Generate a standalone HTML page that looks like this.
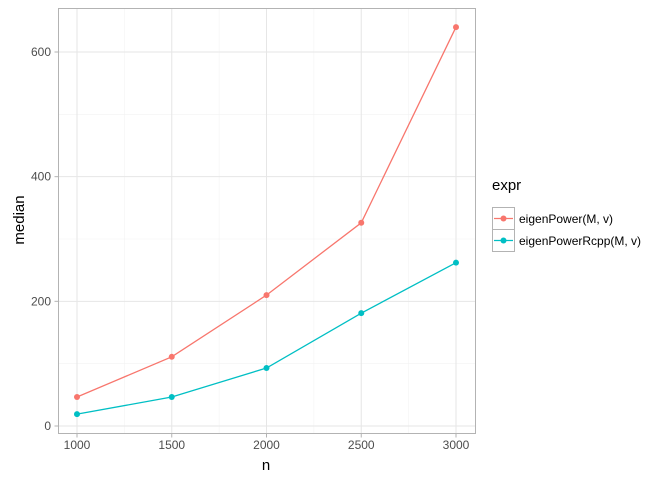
<!DOCTYPE html>
<html><head><meta charset="utf-8"><style>
body{margin:0;background:#fff;}
svg text{font-family:"Liberation Sans",sans-serif;}
</style></head><body>
<svg id="chart" width="672" height="480" xmlns="http://www.w3.org/2000/svg">
<g id="grid"></g>
<g id="series"></g>
<rect x="58.5" y="8.5" width="417" height="425" fill="none" stroke="#b3b3b3" stroke-width="1"/>
<g id="axes"></g>
<text x="266" y="470" font-size="15" fill="#000" text-anchor="middle">n</text>
<text transform="translate(24,220) rotate(-90)" font-size="15" fill="#000" text-anchor="middle">median</text>
<g>
<text x="492" y="190" font-size="15" fill="#000">expr</text>
<g>
<rect x="492.5" y="207.5" width="22" height="22" fill="#fff" stroke="#b3b3b3"/>
<line x1="494" y1="218.5" x2="513" y2="218.5" stroke="#F8766D" stroke-width="1.3"/>
<circle cx="503.5" cy="218.5" r="3" fill="#F8766D"/>
<text x="519" y="223" font-size="12" fill="#000">eigenPower(M, v)</text>
</g>
<g>
<rect x="492.5" y="229.5" width="22" height="22" fill="#fff" stroke="#b3b3b3"/>
<line x1="494" y1="240.5" x2="513" y2="240.5" stroke="#00BFC4" stroke-width="1.3"/>
<circle cx="503.5" cy="240.5" r="3" fill="#00BFC4"/>
<text x="519" y="245" font-size="12" fill="#000">eigenPowerRcpp(M, v)</text>
</g>
</g>
</svg>
<script>
const categories = [1000, 1500, 2000, 2500, 3000];
const seriesEigenPower = [46.5, 111, 210, 326, 640];
const seriesEigenPowerRcpp = [19, 46.5, 93, 181, 262];
const xTicks = [1000, 1500, 2000, 2500, 3000];
const yTicks = [0, 200, 400, 600];
const NS = "http://www.w3.org/2000/svg";
function xs(v){ return 77 + (v - 1000) * (456 - 77) / 2000; }
function ys(v){ return 426 - v * (426 - 52) / 600; }
function mk(parent, tag, attrs){ const e = document.createElementNS(NS, tag); for (const k in attrs) e.setAttribute(k, attrs[k]); parent.appendChild(e); return e; }
const grid = document.getElementById('grid'), axes = document.getElementById('axes'), ser = document.getElementById('series');
// minor grid
for (let i = 0; i < xTicks.length - 1; i++) {
  const x = xs((xTicks[i] + xTicks[i+1]) / 2);
  const l = mk(grid, 'line', {x1:x, x2:x, y1:8.5, y2:433.5, stroke:'#f2f2f2', 'stroke-width':0.6});
  
  
}
for (let i = 0; i < yTicks.length; i++) {
  const y = ys(yTicks[i] + 100);
  if (y < 9) continue;
  const l = mk(grid, 'line', {x1:58.5, x2:475.5, y1:y, y2:y, stroke:'#f2f2f2', 'stroke-width':0.6});
  
  
}
xTicks.forEach(t => {
  const x = xs(t);
  const l = mk(grid, 'line', {x1:x, x2:x, y1:8.5, y2:433.5, stroke:'#e6e6e6', 'stroke-width':1});
  
  
  const tk = mk(axes, 'line', {x1:x, x2:x, y1:433.5, y2:437.5, stroke:'#b3b3b3'});
  
  
  const tx = mk(axes, 'text', {x:x, y:449, 'font-size':12, fill:'#4d4d4d', 'text-anchor':'middle'});
  tx.textContent = t;
  
  
});
yTicks.forEach(t => {
  const y = ys(t);
  const l = mk(grid, 'line', {x1:58.5, x2:475.5, y1:y, y2:y, stroke:'#e6e6e6', 'stroke-width':1});
  
  
  const tk = mk(axes, 'line', {x1:54.5, x2:58.5, y1:y, y2:y, stroke:'#b3b3b3'});
  
  
  const tx = mk(axes, 'text', {x:51, y:y+4, 'font-size':12, fill:'#4d4d4d', 'text-anchor':'end'});
  tx.textContent = t;
  
  
});
function drawSeries(vals, color, name){
  const pts = vals.map((v, i) => xs(categories[i]) + ',' + ys(v)).join(' ');
  const pl = mk(ser, 'polyline', {points:pts, fill:'none', stroke:color, 'stroke-width':1.3});
  
  
  vals.forEach((v, i) => {
    const c = mk(ser, 'circle', {cx:xs(categories[i]), cy:ys(v), r:3, fill:color});
    
    
  });
}
drawSeries(seriesEigenPower, '#F8766D', 'eigenpower');
drawSeries(seriesEigenPowerRcpp, '#00BFC4', 'eigenpowerrcpp');
</script>
</body></html>
